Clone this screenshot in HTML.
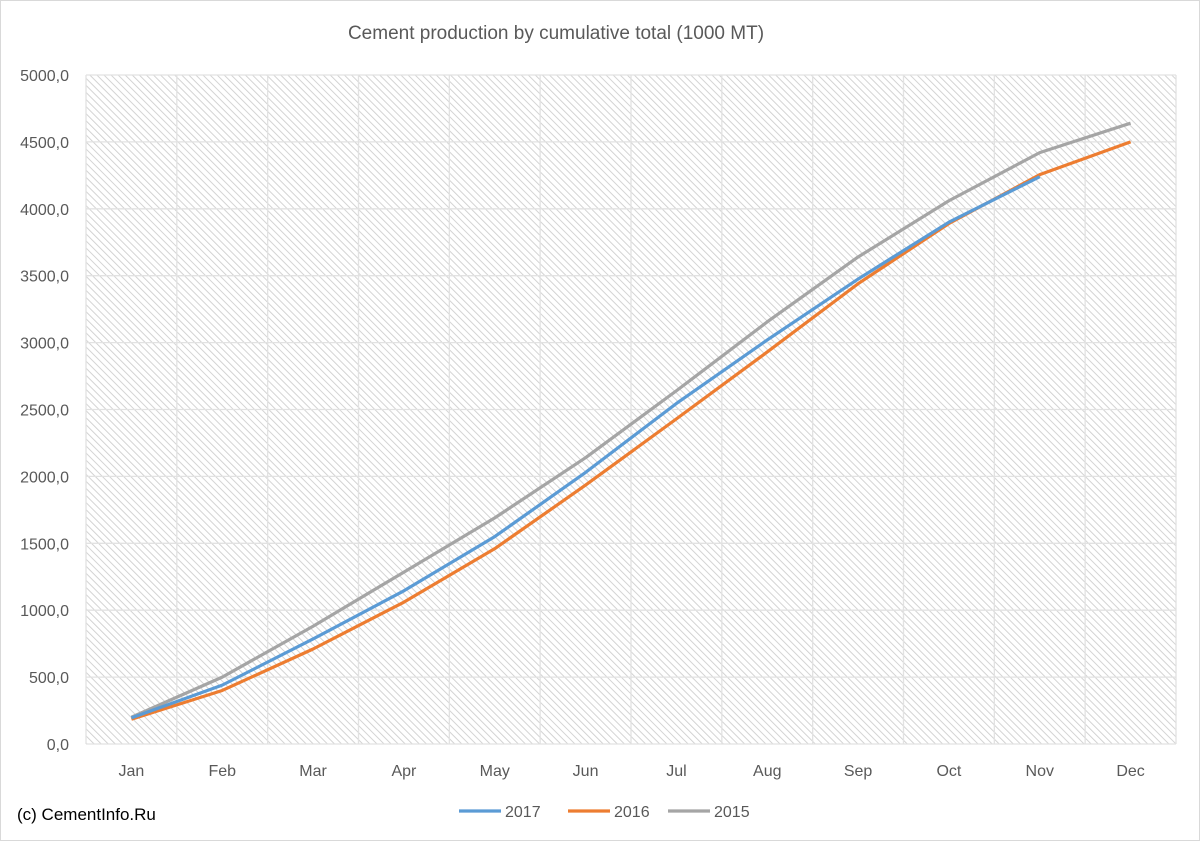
<!DOCTYPE html>
<html><head><meta charset="utf-8"><style>
body{margin:0;background:#fff;font-family:"Liberation Sans",sans-serif}
#wrap{position:relative;width:1200px;height:841px;border:1px solid #d9d9d9;box-sizing:border-box}
</style></head><body>
<div id="wrap">
<svg id="chart" width="1198" height="839">
<defs><pattern id="hatch" width="5" height="5" patternUnits="userSpaceOnUse" patternTransform="rotate(-45)">
<rect width="5" height="5" fill="#fff"/><line x1="0" y1="0" x2="0" y2="5" stroke="#cfcfcf" stroke-width="1.8"/></pattern></defs>
<text x="555" y="38" text-anchor="middle" font-size="19" fill="#595959">Cement production by cumulative total (1000 MT)</text>
<g id="plot"></g>
<text x="16" y="819" font-size="17" fill="#000">(c) CementInfo.Ru</text>
</svg>
</div>
<script>
const categories=["Jan","Feb","Mar","Apr","May","Jun","Jul","Aug","Sep","Oct","Nov","Dec"];
const yTicks=[0,500,1000,1500,2000,2500,3000,3500,4000,4500,5000];
const s2017=[195,440,785,1145,1550,2030,2545,3020,3475,3900,4240];
const s2016=[185,400,710,1060,1460,1935,2430,2930,3440,3890,4255,4500];
const s2015=[200,500,880,1285,1690,2140,2640,3155,3640,4060,4420,4640];
const seriesNames=["2017","2016","2015"];
const NS="http://www.w3.org/2000/svg";
const L=85,R=1175,T=74,B=743,yMax=5000;
const bw=(R-L)/categories.length;
const x=i=>L+bw*(i+0.5);
const y=v=>B-(v/yMax)*(B-T);
const g=document.getElementById('plot');
function mk(tag,attrs){const e=document.createElementNS(NS,tag);for(const k in attrs)e.setAttribute(k,attrs[k]);g.appendChild(e);return e;}
let bg=mk('rect',{x:L,y:T,width:R-L,height:B-T,fill:'url(#hatch)'});


yTicks.forEach(v=>{
 let ln=mk('line',{x1:L,x2:R,y1:y(v),y2:y(v),stroke:'#e2e2e2','stroke-width':1.3});
 
 
 let t=mk('text',{x:68,y:y(v)+6,'text-anchor':'end','font-size':16,fill:'#595959'});
 t.textContent=v.toFixed(1).replace('.',',');
 
 
});
for(let i=0;i<=categories.length;i++){
 let ln=mk('line',{x1:L+bw*i,x2:L+bw*i,y1:T,y2:B,stroke:'#e2e2e2','stroke-width':1.3});
 
 
}
categories.forEach((c,i)=>{
 let t=mk('text',{x:x(i),y:775,'text-anchor':'middle','font-size':16,fill:'#595959'});
 t.textContent=c;
 
 
});
const colors=["#5b9bd5","#ed7d31","#a5a5a5"];
[s2015,s2016,s2017].forEach((s,k)=>{
 const ci=[2,1,0][k];
 let p=mk('polyline',{points:s.map((v,i)=>x(i)+','+y(v)).join(' '),fill:'none',stroke:colors[ci],'stroke-width':3.2,'stroke-linejoin':'round'});
 
 
});
const lx=[458,567,667];
seriesNames.forEach((n,i)=>{
 let ln=mk('line',{x1:lx[i],x2:lx[i]+42,y1:810,y2:810,stroke:colors[i],'stroke-width':3.2});
 
 
 let t=mk('text',{x:lx[i]+46,y:816,'font-size':16,fill:'#595959'});
 t.textContent=n;
 
 
});
</script>
</body></html>
